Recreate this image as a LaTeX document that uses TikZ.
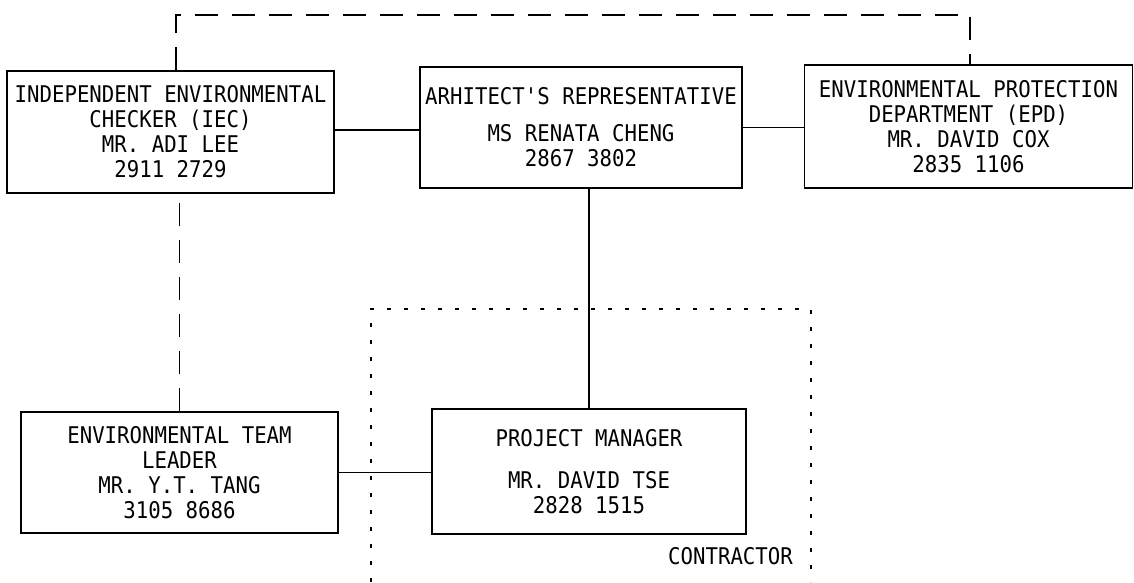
\documentclass[tikz,border=0pt]{standalone}
\usepackage{fontspec}
\setmonofont[FakeStretch=0.9]{DejaVu Sans Mono}
\begin{document}
\begin{tikzpicture}[x=1pt,y=-1pt,
  box/.style={draw,line width=1.6pt,inner sep=0pt,align=center,
    font=\ttfamily\fontsize{23}{25}\selectfont},
  conn/.style={line width=1.3pt},
  longdash/.style={line width=1.4pt,dash pattern=on 23pt off 14pt},
  dotbox/.style={line width=1.8pt,dash pattern=on 4pt off 13pt},
  lbl/.style={font=\ttfamily\fontsize{23}{25}\selectfont,inner sep=0pt}]
\useasboundingbox (0,0) rectangle (1134,582);
\node[box,minimum width=327pt,minimum height=122pt] (iec) at (170.5,132)
  {INDEPENDENT ENVIRONMENTAL\\CHECKER (IEC)\\MR. ADI LEE\\2911 2729};
\node[box,minimum width=322pt,minimum height=121pt] (ar) at (581,127.5)
  {ARHITECT'S REPRESENTATIVE\\[12pt]MS RENATA CHENG\\2867 3802};
\node[box,minimum width=328pt,minimum height=123pt] (epd) at (968.5,126.5)
  {ENVIRONMENTAL PROTECTION\\DEPARTMENT (EPD)\\MR. DAVID COX\\2835 1106};
\node[box,minimum width=317pt,minimum height=121pt] (etl) at (179.5,472.5)
  {ENVIRONMENTAL TEAM\\LEADER\\MR. Y.T. TANG\\3105 8686};
\node[box,minimum width=314pt,minimum height=125pt] (pm) at (589,471.5)
  {PROJECT MANAGER\\[17pt]MR. DAVID TSE\\2828 1515};
\node[lbl] (con) at (730.5,556) {CONTRACTOR};
% connectors
\draw[conn] (iec.east |- 0,130) -- (ar.west |- 0,130);
\draw[conn] (ar.east) -- (ar.east -| epd.west);
\draw[conn] (pm.north) -- (pm.north |- ar.south);
\draw[conn] (etl.east) -- (etl.east -| pm.west);
\draw[longdash] (etl.north) -- (etl.north |- iec.south);
\coordinate (tl) at (176,15);
\coordinate (tr) at (970,15);
\draw[longdash] (iec.north -| tl) -- (tl) -- (tr) -- (tr |- epd.north);
% contractor boundary
\draw[dotbox] (371,582) -- (371,309) -- (811,309) -- (811,582);
\end{tikzpicture}
\end{document}
